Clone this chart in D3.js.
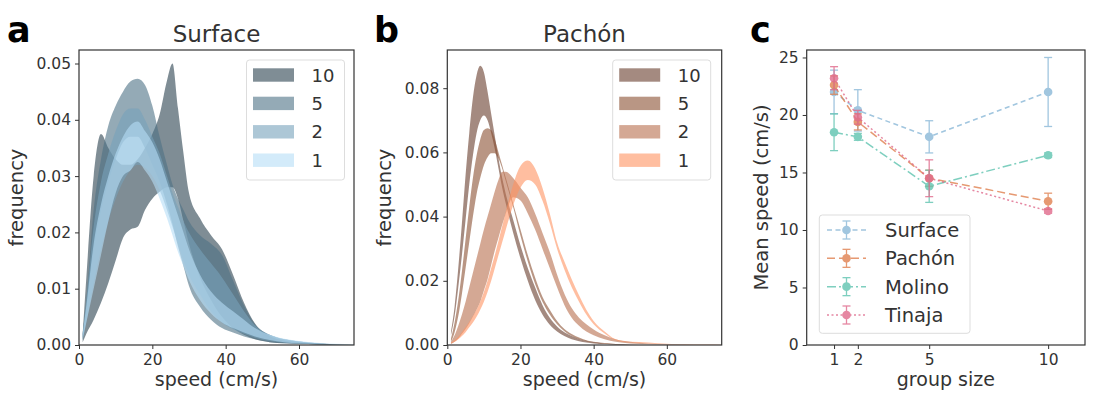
<!DOCTYPE html>
<html>
<head>
<meta charset="utf-8">
<script src="https://cdn.jsdelivr.net/npm/d3@7"></script>
<style>
  body { margin: 0; background: #fff; }
  text { font-family: "DejaVu Sans", sans-serif; fill: #333; }
</style>
</head>
<body>
<svg id="fig" width="1094" height="393"></svg>
<script>
// ---- panel a : Surface speed distributions (band = lower / upper curve) ----
const speedsA = [1, 2, 4, 6, 8, 10, 12, 14, 16, 18, 20, 22, 24, 25.5, 27, 28.5, 30, 33, 36, 39, 42, 45, 48, 52, 56, 60, 65, 70, 75];
const surfaceHi10 = [0.002, 0.012, 0.030, 0.0375, 0.035, 0.033, 0.032, 0.032, 0.033, 0.035, 0.0375, 0.041, 0.047, 0.050, 0.042, 0.034, 0.027, 0.0225, 0.0195, 0.017, 0.0125, 0.0075, 0.0038, 0.0016, 0.0008, 0.0005, 0.0003, 0.0001, 0];
const surfaceLo10 = [0.0005, 0.002, 0.0045, 0.0075, 0.011, 0.015, 0.019, 0.0205, 0.021, 0.024, 0.026, 0.0272, 0.028, 0.028, 0.026, 0.022, 0.018, 0.012, 0.008, 0.005, 0.003, 0.0018, 0.001, 0.0005, 0.0003, 0.0002, 0.0001, 0, 0];
const surfaceHi5 = [0.002, 0.008, 0.024, 0.033, 0.039, 0.0425, 0.045, 0.0468, 0.0473, 0.0462, 0.0425, 0.037, 0.032, 0.0285, 0.026, 0.024, 0.022, 0.0195, 0.018, 0.016, 0.0115, 0.007, 0.0037, 0.0018, 0.001, 0.0006, 0.0003, 0.0001, 0];
const surfaceLo5 = [0.001, 0.006, 0.017, 0.024, 0.029, 0.033, 0.036, 0.037, 0.037, 0.035, 0.032, 0.029, 0.025, 0.0215, 0.0175, 0.014, 0.0105, 0.0068, 0.0045, 0.003, 0.0022, 0.0015, 0.001, 0.0005, 0.0003, 0.0002, 0.0001, 0, 0];
const surfaceHi2 = [0.002, 0.008, 0.021, 0.029, 0.034, 0.038, 0.041, 0.042, 0.042, 0.040, 0.037, 0.034, 0.030, 0.027, 0.0245, 0.022, 0.020, 0.017, 0.0145, 0.012, 0.009, 0.006, 0.0035, 0.0018, 0.001, 0.0006, 0.0003, 0.0001, 0];
const surfaceLo2 = [0.0008, 0.004, 0.011, 0.017, 0.022, 0.026, 0.029, 0.031, 0.032, 0.0315, 0.030, 0.0275, 0.024, 0.021, 0.018, 0.015, 0.0125, 0.009, 0.006, 0.004, 0.0028, 0.002, 0.0013, 0.0007, 0.0004, 0.0002, 0.0001, 0, 0];
const surfaceHi1 = [0.002, 0.007, 0.018, 0.025, 0.030, 0.034, 0.037, 0.039, 0.0397, 0.038, 0.036, 0.033, 0.029, 0.026, 0.023, 0.020, 0.017, 0.0125, 0.0095, 0.0075, 0.006, 0.0045, 0.003, 0.0018, 0.0011, 0.0007, 0.0004, 0.0002, 0.0001];
const surfaceLo1 = [0.001, 0.004, 0.010, 0.016, 0.022, 0.027, 0.030, 0.031, 0.0325, 0.031, 0.029, 0.026, 0.0225, 0.0195, 0.0165, 0.014, 0.0115, 0.008, 0.0056, 0.004, 0.003, 0.0022, 0.0015, 0.0009, 0.0005, 0.0003, 0.0002, 0.0001, 0];

// ---- panel b : Pachón speed distributions ----
const speedsB = [1, 2, 3, 4, 5, 6, 7, 8, 9, 10, 11, 12, 13, 14, 15, 16, 18, 20, 22, 24, 26, 28, 30, 32, 34, 36, 38, 40, 43, 46, 50, 55, 60, 65, 70, 75];
const pachonHi10 = [0.004, 0.012, 0.024, 0.038, 0.053, 0.066, 0.077, 0.084, 0.087, 0.085, 0.079, 0.072, 0.065, 0.058, 0.052, 0.047, 0.039, 0.031, 0.024, 0.018, 0.0125, 0.0085, 0.0058, 0.004, 0.0028, 0.0019, 0.0013, 0.0009, 0.0005, 0.0003, 0.0001, 0, 0, 0, 0, 0];
const pachonLo10 = [0.003, 0.009, 0.018, 0.028, 0.039, 0.050, 0.059, 0.066, 0.070, 0.0715, 0.070, 0.066, 0.061, 0.055, 0.049, 0.044, 0.035, 0.027, 0.020, 0.014, 0.0095, 0.0063, 0.0042, 0.0028, 0.0018, 0.0012, 0.0008, 0.0005, 0.0003, 0.0001, 0, 0, 0, 0, 0, 0];
const pachonHi5 = [0.002, 0.007, 0.014, 0.023, 0.033, 0.043, 0.052, 0.059, 0.064, 0.067, 0.0675, 0.067, 0.064, 0.060, 0.056, 0.052, 0.044, 0.036, 0.028, 0.021, 0.015, 0.011, 0.0075, 0.005, 0.0034, 0.0023, 0.0015, 0.001, 0.0006, 0.0003, 0.0001, 0, 0, 0, 0, 0];
const pachonLo5 = [0.001, 0.004, 0.009, 0.016, 0.024, 0.032, 0.040, 0.047, 0.052, 0.056, 0.0585, 0.0597, 0.0597, 0.058, 0.055, 0.051, 0.043, 0.034, 0.026, 0.019, 0.0135, 0.0095, 0.0065, 0.0043, 0.0028, 0.0018, 0.0012, 0.0008, 0.0004, 0.0002, 0.0001, 0, 0, 0, 0, 0];
const pachonHi2 = [0.001, 0.003, 0.006, 0.0095, 0.0135, 0.018, 0.0225, 0.027, 0.0315, 0.036, 0.040, 0.044, 0.048, 0.0515, 0.054, 0.054, 0.052, 0.049, 0.046, 0.041, 0.035, 0.029, 0.022, 0.016, 0.0115, 0.0085, 0.0065, 0.0048, 0.003, 0.0018, 0.001, 0.0005, 0.0002, 0.0001, 0, 0];
const pachonLo2 = [0.0003, 0.001, 0.002, 0.0035, 0.005, 0.0068, 0.0088, 0.011, 0.0135, 0.017, 0.0205, 0.025, 0.0295, 0.0335, 0.0375, 0.041, 0.046, 0.045, 0.041, 0.036, 0.030, 0.024, 0.018, 0.0125, 0.0085, 0.006, 0.0042, 0.003, 0.0018, 0.001, 0.0005, 0.0002, 0.0001, 0, 0, 0];
const pachonHi1 = [0.0008, 0.0015, 0.0025, 0.004, 0.0055, 0.0072, 0.009, 0.011, 0.0135, 0.0165, 0.020, 0.024, 0.028, 0.0325, 0.037, 0.0415, 0.050, 0.0558, 0.0575, 0.055, 0.049, 0.041, 0.032, 0.026, 0.0205, 0.0155, 0.011, 0.0075, 0.0042, 0.0018, 0.001, 0.0008, 0.0004, 0.0002, 0.0002, 0.0001];
const pachonLo1 = [0.0005, 0.001, 0.0018, 0.0028, 0.004, 0.0055, 0.007, 0.0088, 0.011, 0.0135, 0.0165, 0.020, 0.024, 0.028, 0.032, 0.036, 0.0435, 0.049, 0.0514, 0.050, 0.045, 0.038, 0.030, 0.0235, 0.018, 0.0135, 0.0095, 0.0065, 0.0036, 0.0015, 0.0008, 0.0005, 0.0002, 0.0001, 0.0001, 0];

const groupLabels = ["10", "5", "2", "1"];

// ---- panel c : mean speed vs group size ----
const groupSizes = [1, 2, 5, 10];
const populations = ["Surface", "Pachón", "Molino", "Tinaja"];
const surfaceMean = [22.0, 20.4, 18.1, 22.0];
const surfaceErr = [1.9, 1.8, 1.4, 3.0];
const pachonMean = [22.6, 19.4, 14.5, 12.5];
const pachonErr = [0.8, 0.7, 0.7, 0.7];
const molinoMean = [18.5, 18.1, 13.8, 16.5];
const molinoErr = [1.6, 0.3, 1.4, 0.2];
const tinajaMean = [23.2, 19.8, 14.5, 11.65];
const tinajaErr = [1.0, 0.6, 1.6, 0.2];

const svg = d3.select("#fig");
svg.append("rect").attr("width", 1094).attr("height", 393).attr("fill", "#fff");

const plotTop = 50, plotBottom = 345;

function styleAxis(g) {
  g.select(".domain").remove();
  g.selectAll(".tick line").attr("stroke", "#333");
  g.selectAll(".tick text").attr("font-size", null).style("font-size", "15.5px").style("fill", "#333");
}

function frame(g, left, right) {
  g.append("rect")
    .attr("x", left).attr("y", plotTop)
    .attr("width", right - left).attr("height", plotBottom - plotTop)
    .attr("fill", "none").attr("stroke", "#333").attr("stroke-width", 1.2);
}

function densityPanel(p) {
  const g = svg.append("g");
  const x = d3.scaleLinear().domain([0, 75]).range([p.left, p.right]);
  const y = d3.scaleLinear().domain([0, p.ymax]).range([plotBottom, plotTop]);

  p.bands.forEach((b) => {
    const area = d3.area()
      .x((d, i) => x(p.speeds[i]))
      .y0((d, i) => y(b.lo[i]))
      .y1((d, i) => y(b.hi[i]))
      .curve(d3.curveMonotoneX);
    g.append("path").datum(b.lo).attr("d", area)
      .attr("fill", b.color).attr("fill-opacity", 0.6);
  });

  g.append("g").attr("transform", `translate(0,${plotBottom})`)
    .call(d3.axisBottom(x).tickValues([0, 20, 40, 60]).tickSize(4).tickPadding(5))
    .call(styleAxis);
  g.append("g").attr("transform", `translate(${p.left},0)`)
    .call(d3.axisLeft(y).tickValues(p.yticks).tickFormat(d3.format(".2f")).tickSize(4).tickPadding(4))
    .call(styleAxis);
  frame(g, p.left, p.right);

  // legend
  const lg = g.append("g");
  lg.append("rect").attr("x", p.legX).attr("y", 60).attr("width", 98).attr("height", 120)
    .attr("rx", 3).attr("fill", "#fff").attr("fill-opacity", 0.8).attr("stroke", "#ddd");
  p.bands.forEach((b, i) => {
    const cy = 75 + i * 28.4;
    lg.append("rect").attr("x", p.legX + 6.5).attr("y", cy - 6.7).attr("width", 41).attr("height", 13.4)
      .attr("fill", b.color).attr("fill-opacity", 0.6);
    lg.append("text").attr("x", p.legX + 65).attr("y", cy + 6.5)
      .style("font-size", "18px").text(groupLabels[i]);
  });

  g.append("text").attr("x", (p.left + p.right) / 2).attr("y", 42)
    .attr("text-anchor", "middle").style("font-size", "23px").text(p.title);
  g.append("text").attr("x", (p.left + p.right) / 2).attr("y", 386)
    .attr("text-anchor", "middle").style("font-size", "19px").text("speed (cm/s)");
  g.append("text").attr("transform", `translate(${p.left - 56},${(plotTop + plotBottom) / 2}) rotate(-90)`)
    .attr("text-anchor", "middle").style("font-size", "19.5px").text("frequency");
  g.append("text").attr("x", p.letterX).attr("y", 42)
    .style("font-size", "35px").style("font-weight", "bold").style("fill", "#000").text(p.letter);
}

densityPanel({
  left: 79, right: 354, ymax: 0.0524, yticks: [0, 0.01, 0.02, 0.03, 0.04, 0.05],
  speeds: speedsA, title: "Surface", letter: "a", letterX: 7, legX: 246.5,
  bands: [
    { lo: surfaceLo10, hi: surfaceHi10, color: "#2a414e" },
    { lo: surfaceLo5, hi: surfaceHi5, color: "#4d7185" },
    { lo: surfaceLo2, hi: surfaceHi2, color: "#76a2bb" },
    { lo: surfaceLo1, hi: surfaceHi1, color: "#b6def7" },
  ],
});

densityPanel({
  left: 447.3, right: 721.7, ymax: 0.0919, yticks: [0, 0.02, 0.04, 0.06, 0.08],
  speeds: speedsB, title: "Pachón", letter: "b", letterX: 374, legX: 612.7,
  bands: [
    { lo: pachonLo10, hi: pachonHi10, color: "#683c2b" },
    { lo: pachonLo5, hi: pachonHi5, color: "#8a5032" },
    { lo: pachonLo2, hi: pachonHi2, color: "#b76e4d" },
    { lo: pachonLo1, hi: pachonHi1, color: "#ff9361" },
  ],
});

// ---- panel c ----
const cLeft = 806.7, cRight = 1085;
const xc = d3.scaleLinear().domain([-0.15, 11.55]).range([cLeft, cRight]);
const yc = d3.scaleLinear().domain([0, 25.65]).range([plotBottom, plotTop]);
const gc = svg.append("g");

const series = [
  { mean: surfaceMean, err: surfaceErr, color: "#8ab8d8", dash: "5,3.5" },
  { mean: pachonMean, err: pachonErr, color: "#e0804f", dash: "8,4" },
  { mean: molinoMean, err: molinoErr, color: "#5fc4b0", dash: "9,3,2,3" },
  { mean: tinajaMean, err: tinajaErr, color: "#e06a8c", dash: "2,2.5" },
];

const line = d3.line().x((d, i) => xc(groupSizes[i])).y((d) => yc(d));
series.forEach((s) => {
  const sg = gc.append("g").attr("opacity", 0.8);
  sg.append("path").datum(s.mean).attr("d", line)
    .attr("fill", "none").attr("stroke", s.color).attr("stroke-width", 1.5).attr("stroke-dasharray", s.dash);
  s.mean.forEach((m, i) => {
    const cx = xc(groupSizes[i]);
    const y0 = yc(m - s.err[i]), y1 = yc(m + s.err[i]);
    sg.append("line").attr("x1", cx).attr("x2", cx).attr("y1", y0).attr("y2", y1)
      .attr("stroke", s.color).attr("stroke-width", 1.3);
    [y0, y1].forEach((yy) => sg.append("line").attr("x1", cx - 4).attr("x2", cx + 4).attr("y1", yy).attr("y2", yy)
      .attr("stroke", s.color).attr("stroke-width", 1.3));
    sg.append("circle").attr("cx", cx).attr("cy", yc(m)).attr("r", 4.3).attr("fill", s.color);
  });
});

gc.append("g").attr("transform", `translate(0,${plotBottom})`)
  .call(d3.axisBottom(xc).tickValues(groupSizes).tickSize(4).tickPadding(5))
  .call(styleAxis);
gc.append("g").attr("transform", `translate(${cLeft},0)`)
  .call(d3.axisLeft(yc).tickValues([0, 5, 10, 15, 20, 25]).tickSize(4).tickPadding(4))
  .call(styleAxis);
frame(gc, cLeft, cRight);

// legend c
const lc = gc.append("g");
lc.append("rect").attr("x", 819.3).attr("y", 215).attr("width", 150.7).attr("height", 118.3)
  .attr("rx", 3).attr("fill", "#fff").attr("fill-opacity", 0.8).attr("stroke", "#ddd");
series.forEach((s, i) => {
  const cy = 230 + i * 28.33;
  const hg = lc.append("g").attr("opacity", 0.8);
  hg.append("line").attr("x1", 827).attr("x2", 866).attr("y1", cy).attr("y2", cy)
    .attr("stroke", s.color).attr("stroke-width", 1.5).attr("stroke-dasharray", s.dash);
  hg.append("line").attr("x1", 846.5).attr("x2", 846.5).attr("y1", cy - 9).attr("y2", cy + 9)
    .attr("stroke", s.color).attr("stroke-width", 1.3);
  [cy - 9, cy + 9].forEach((yy) => hg.append("line").attr("x1", 842.5).attr("x2", 850.5).attr("y1", yy).attr("y2", yy)
    .attr("stroke", s.color).attr("stroke-width", 1.3));
  hg.append("circle").attr("cx", 846.5).attr("cy", cy).attr("r", 4.3).attr("fill", s.color);
  lc.append("text").attr("x", 885).attr("y", cy + 7).style("font-size", "19.5px").text(populations[i]);
});

gc.append("text").attr("x", (cLeft + cRight) / 2).attr("y", 386)
  .attr("text-anchor", "middle").style("font-size", "19px").text("group size");
gc.append("text").attr("transform", `translate(768,${(plotTop + plotBottom) / 2}) rotate(-90)`)
  .attr("text-anchor", "middle").style("font-size", "19.5px").text("Mean speed (cm/s)");
gc.append("text").attr("x", 750).attr("y", 42)
  .style("font-size", "35px").style("font-weight", "bold").style("fill", "#000").text("c");
</script>
</body>
</html>
